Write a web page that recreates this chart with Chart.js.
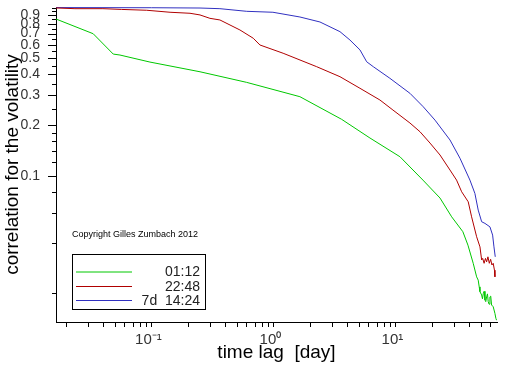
<!DOCTYPE html>
<html>
<head>
<meta charset="utf-8">
<script src="https://cdn.jsdelivr.net/npm/chart.js@4/dist/chart.umd.min.js"></script>
<style>
html,body{margin:0;padding:0;background:#fff;}
#wrap{width:512px;height:366px;}
</style>
</head>
<body>
<div id="wrap"><canvas id="c" width="512" height="366"></canvas></div>
<script>
// ---- data (time lag in days, correlation) ----
const seriesLabels = ["01:12", "22:48", "7d  14:24"];
const seriesColors = ["#00c800", "#b00000", "#3030c0"];

const greenLag = [0.0165,0.0333,0.0486,0.0552,0.0972,0.25,0.603,1.648,3.62,6.18,10.89,16.8,23.2,28.9,35.7,39.3,43.4,46.3,47.7,48.6,49.3,50.9,51.7,52.5,53.3,54.2,55.0,55.9,56.8,57.6,58.5,59.5,60.4,61.4,63.3,65.4,66.6,67.5];
const greenCorr = [0.855,0.699,0.529,0.522,0.474,0.415,0.359,0.295,0.2164,0.1675,0.1296,0.0941,0.0736,0.0569,0.0464,0.0386,0.0301,0.0250,0.0239,0.0218,0.0204,0.0195,0.0185,0.0199,0.0205,0.0182,0.0178,0.0190,0.0198,0.0178,0.0172,0.0190,0.0192,0.0170,0.0166,0.01515,0.01415,0.0138];

const redLag = [0.0165,0.0236,0.04,0.057,0.0914,0.142,0.207,0.25,0.3016,0.364,0.531,0.683,0.775,1.2,2.26,3.51,5.12,7.46,9.54,13.15,15.9,19.2,23.2,28.0,31.7,34.9,39.5,42.1,46.3,49.3,50.9,51.9,53.3,54.7,55.9,57.3,58.8,60.3,61.8,63.3,64.8,65.4];
const redCorr = [0.995,0.985,0.985,0.975,0.964,0.938,0.925,0.904,0.863,0.844,0.736,0.657,0.599,0.535,0.445,0.388,0.331,0.282,0.2457,0.2057,0.1825,0.1563,0.1327,0.108,0.0941,0.0802,0.0699,0.0569,0.0433,0.0377,0.0315,0.0322,0.0301,0.0322,0.0307,0.0329,0.0301,0.0318,0.0294,0.0301,0.0274,0.0250];

const blueLag = [0.0165,0.1,0.25,0.364,0.604,0.99,1.648,2.405,3.51,4.24,5.12,5.81,6.58,9.01,13.15,16.9,21.1,28.0,33.8,40.8,44.8,47.7,50.9,54.2,59.5,62.6,64.2,65.8];
const blueCorr = [1.0,0.998,0.994,0.985,0.95,0.938,0.879,0.821,0.719,0.641,0.56,0.476,0.445,0.3795,0.309,0.257,0.214,0.163,0.127,0.0941,0.0784,0.0624,0.0532,0.052,0.0496,0.0443,0.0377,0.0329];

const xTickValues = [0.02,0.03,0.04,0.05,0.06,0.07,0.08,0.09,0.1,0.2,0.3,0.4,0.5,0.6,0.7,0.8,0.9,1,2,3,4,5,6,7,8,9,10,20,30,40,50,60];
const xTickLabels = {0.1: "10\u207B\u00B9", 1: "10\u2070", 10: "10\u00B9"};
const yTickValues = [0.02,0.04,0.06,0.08,0.1,0.12,0.14,0.16,0.18,0.2,0.25,0.3,0.35,0.4,0.45,0.5,0.55,0.6,0.65,0.7,0.75,0.8,0.85,0.9,0.95,1.0];
const yTickLabels = [0.1,0.2,0.3,0.4,0.5,0.6,0.7,0.8,0.9];

const copyrightText = "Copyright Gilles Zumbach 2012";

function pts(xs, ys){ return xs.map((x,i)=>({x:x, y:ys[i]})); }

const tickPlugin = {
  id: 'ticksAndLegend',
  afterDraw(chart){
    const ctx = chart.ctx, ca = chart.chartArea;
    const xs = chart.scales.x, ys = chart.scales.y;
    ctx.save();
    ctx.strokeStyle = '#000';
    ctx.lineWidth = 1;
    ctx.beginPath();
    ys.ticks.forEach(t=>{
      const p = Math.round(ys.getPixelForValue(t.value)) + 0.5;
      const len = yTickLabels.includes(t.value) ? 8 : 4;
      ctx.moveTo(ca.left - len, p); ctx.lineTo(ca.left, p);
    });
    xs.ticks.forEach(t=>{
      const p = Math.round(xs.getPixelForValue(t.value)) + 0.5;
      ctx.moveTo(p, ca.bottom); ctx.lineTo(p, ca.bottom + 5);
    });
    ctx.stroke();

    // copyright
    ctx.fillStyle = '#000';
    ctx.font = '9px "Liberation Sans", Arial, sans-serif';
    ctx.textAlign = 'left';
    ctx.textBaseline = 'middle';
    ctx.fillText(copyrightText, 72, 235);

    // legend box
    ctx.strokeRect(72.5, 254.5, 133, 55);
    ctx.font = '14px "Liberation Sans", Arial, sans-serif';
    ctx.textAlign = 'right';
    const rows = [271.5, 286, 300];
    chart.data.datasets.forEach((ds,i)=>{
      ctx.strokeStyle = ds.borderColor;
      ctx.beginPath();
      ctx.moveTo(76, rows[i] + 0.5); ctx.lineTo(132, rows[i] + 0.5);
      ctx.stroke();
      ctx.fillStyle = '#222';
      ctx.fillText(ds.label, 200, rows[i] + 1);
    });
    ctx.restore();
  }
};

const fam = '"Liberation Sans", Arial, sans-serif';

new Chart(document.getElementById('c'), {
  type: 'line',
  data: {
    datasets: [0,1,2].map(i=>({
      label: seriesLabels[i],
      data: pts([greenLag, redLag, blueLag][i], [greenCorr, redCorr, blueCorr][i]),
      borderColor: seriesColors[i],
      borderWidth: 1,
      pointRadius: 0,
      tension: 0,
      fill: false
    }))
  },
  options: {
    responsive: false,
    animation: false,
    events: [],
    layout: {padding: {left: 0, right: 15, top: 7, bottom: 0}},
    plugins: {legend: {display: false}, tooltip: {enabled: false}},
    scales: {
      x: {
        type: 'logarithmic',
        min: 0.0165, max: 68,
        afterBuildTicks(scale){ scale.ticks = xTickValues.map(v=>({value:v})); },
        afterFit(scale){ scale.height = 44; scale.paddingLeft = 0; scale.paddingRight = 0; },
        grid: {display: false, drawTicks: false},
        border: {display: true, color: '#000', width: 1},
        ticks: {
          autoSkip: false, maxRotation: 0, padding: 9, labelOffset: -3,
          color: '#333', font: {family: fam, size: 15},
          callback(v){ return xTickLabels[v] !== undefined ? xTickLabels[v] : ''; }
        },
        title: {display: true, text: 'time lag  [day]', color: '#000',
          font: {family: fam, size: 19},
          padding: {top: 0, bottom: 2}}
      },
      y: {
        type: 'logarithmic',
        min: 0.01347, max: 1.008,
        afterBuildTicks(scale){ scale.ticks = yTickValues.map(v=>({value:v})); },
        afterFit(scale){ scale.width = 56; scale.paddingTop = 0; scale.paddingBottom = 0; },
        grid: {display: false, drawTicks: false},
        border: {display: true, color: '#000', width: 1},
        ticks: {
          autoSkip: false, padding: 16,
          color: '#333', font: {family: fam, size: 14},
          callback(v){ return yTickLabels.includes(v) ? String(v) : ''; }
        },
        title: {display: true, text: 'correlation for the volatility', color: '#000',
          font: {family: fam, size: 19},
          padding: {top: 1, bottom: 0}}
      }
    }
  },
  plugins: [tickPlugin]
});
</script>
</body>
</html>
